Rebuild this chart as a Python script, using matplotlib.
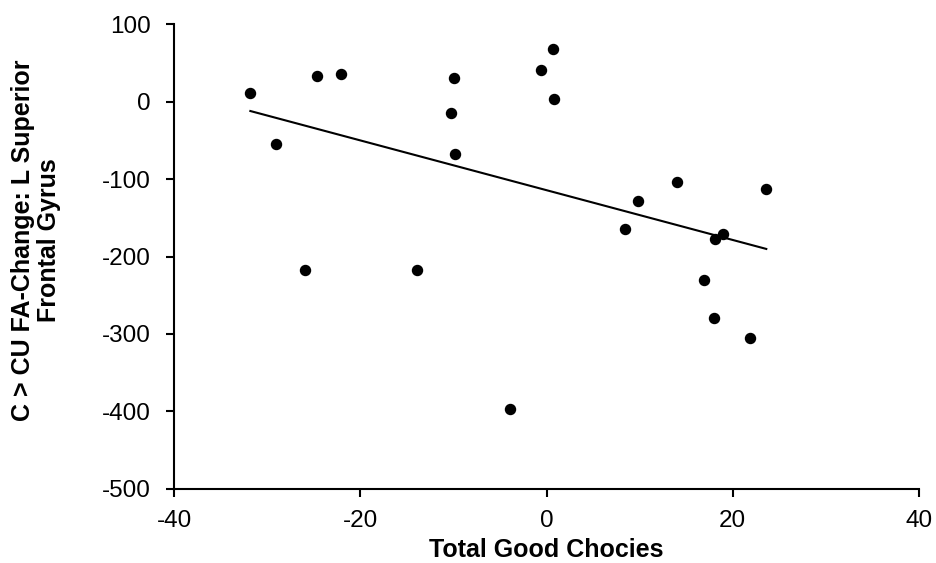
import matplotlib.pyplot as plt
import numpy as np

plt.rcParams['font.family'] = ['Liberation Sans', 'DejaVu Sans']
plt.rcParams['axes.unicode_minus'] = False

# Total good choices vs FA change (L superior frontal gyrus)
good_choices = [-31.8, -29.0, -24.6, -22.1, -9.9, -10.3, -9.8, -0.6, 0.7, 0.8,
                14.0, 9.8, 23.6, 8.4, 18.9, 18.1,
                -25.9, -13.9, -3.9, 16.9, 18.0, 21.9]
fa_change = [11, -55, 33, 36, 31, -14, -67, 41, 68, 4,
             -104, -128, -113, -164, -171, -178,
             -218, -217, -397, -230, -279, -305]

x = np.array(good_choices)
y = np.array(fa_change)

fig = plt.figure(figsize=(9.37, 5.63), dpi=100)
ax = fig.add_axes([0.1857, 0.132, 0.7951, 0.8248])

ax.scatter(x, y, s=52, color='black', zorder=3)

# linear trend over the data range
slope, intercept = np.polyfit(x, y, 1)
xs = np.array([x.min(), x.max()])
ax.plot(xs, slope * xs + intercept, color='black', linewidth=1.5)

ax.set_xlim(-40, 40)
ax.set_ylim(-500, 100)
ax.set_xticks(np.arange(-40, 41, 20))
ax.set_yticks(np.arange(-500, 101, 100))

for side in ['top', 'right']:
    ax.spines[side].set_visible(False)
for side in ['left', 'bottom']:
    ax.spines[side].set_linewidth(1.5)

ax.tick_params(axis='both', direction='out', length=6, width=1.5, labelsize=17.5)
ax.tick_params(axis='y', pad=11)
ax.tick_params(axis='x', pad=9)

ax.set_xlabel('Total Good Chocies', fontsize=18, fontweight='bold', labelpad=5)
ax.set_ylabel('C > CU FA-Change: L Superior\nFrontal Gyrus', fontsize=18,
              fontweight='bold', linespacing=1.1)
ax.yaxis.set_label_coords(-0.152, 0.535)

fig.savefig('out.png', dpi=100)
